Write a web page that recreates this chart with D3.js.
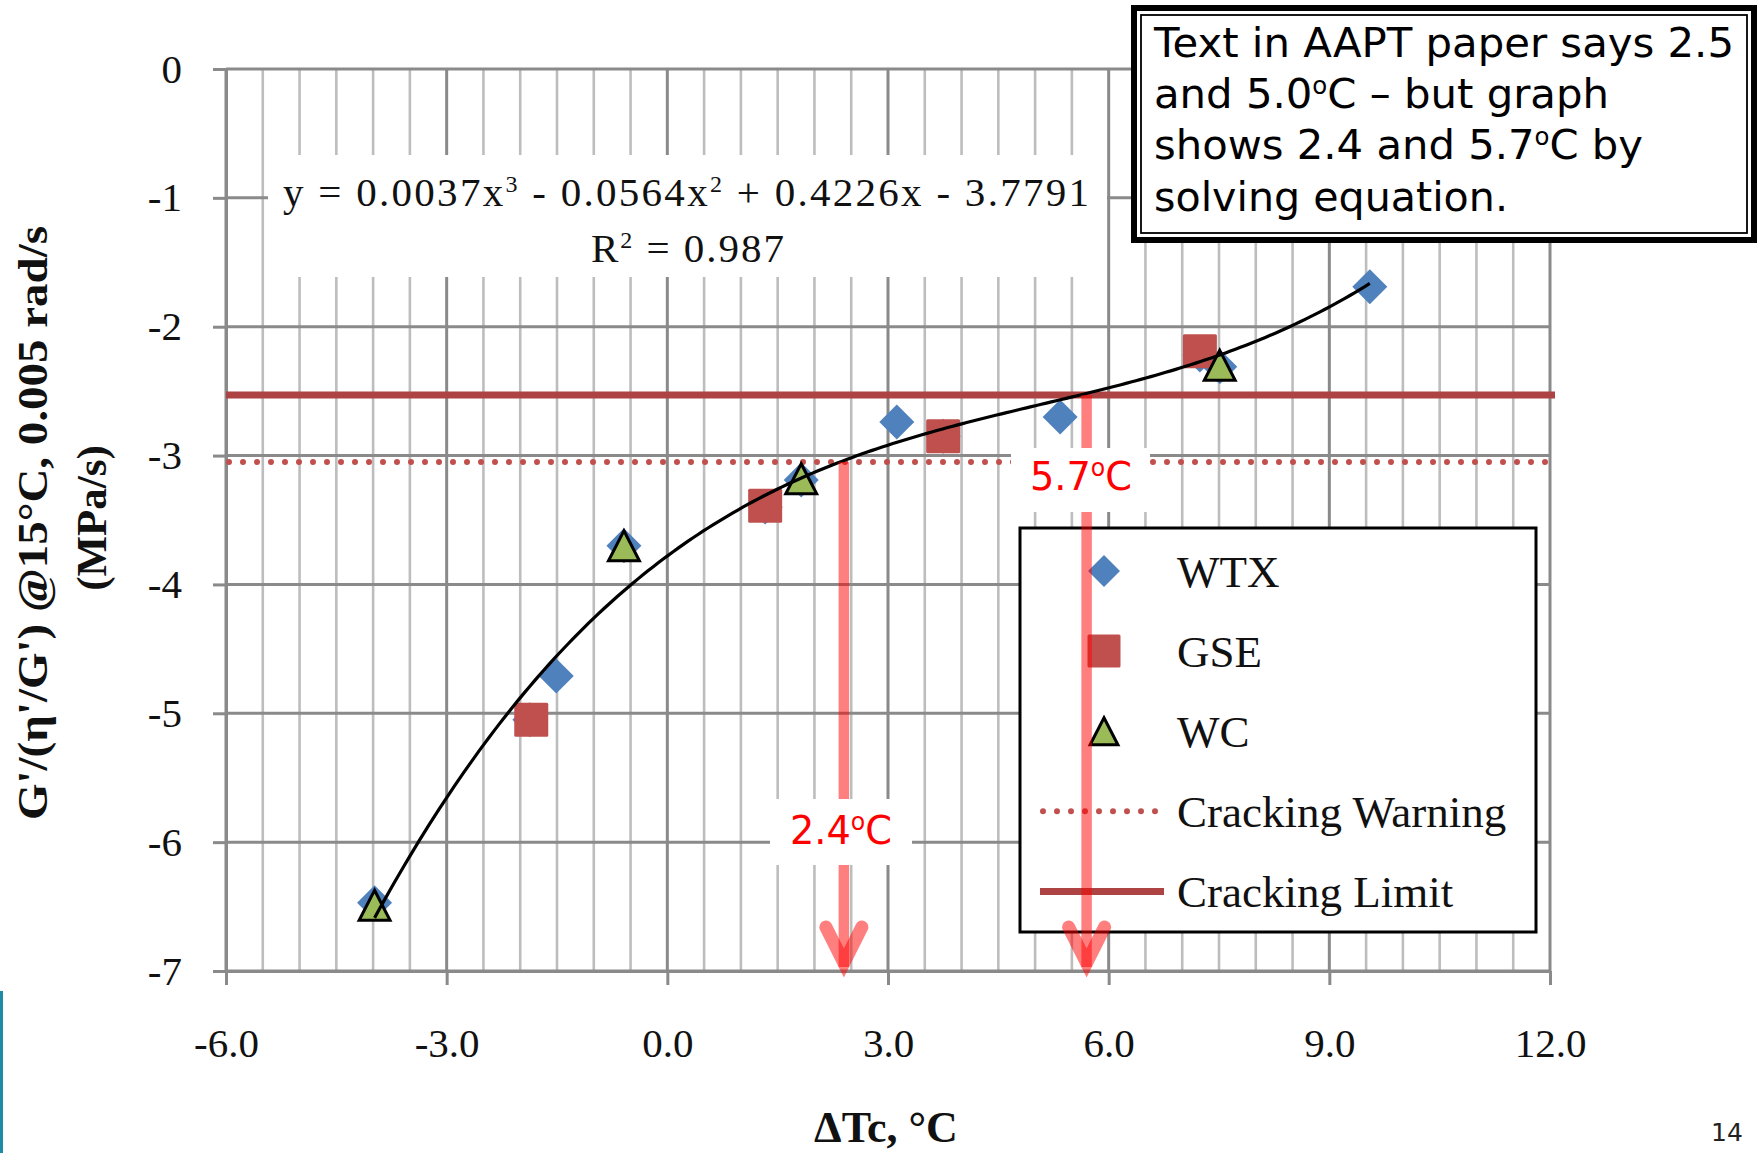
<!DOCTYPE html>
<html>
<head>
<meta charset="utf-8">
<script src="https://cdn.jsdelivr.net/npm/d3@7"></script>
<style>
  html, body { margin: 0; padding: 0; background: #fff; }
  svg { display: block; }
</style>
</head>
<body>
<svg id="chart" width="1760" height="1153"></svg>
<script>
// ---- data ----
const xTicks = [-6, -3, 0, 3, 6, 9, 12];
const yTicks = [0, -1, -2, -3, -4, -5, -6, -7];

// WTX (diamonds)
const wtxX = [-3.98, -1.87, -1.51, -0.59, 1.33, 1.82, 3.12, 3.75, 5.34, 7.24, 7.51, 9.55];
const wtxY = [-6.47, -5.05, -4.71, -3.70, -3.40, -3.19, -2.74, -2.85, -2.70, -2.22, -2.31, -1.69];
// GSE (squares)
const gseX = [-1.85, 1.33, 3.75, 7.24];
const gseY = [-5.05, -3.39, -2.85, -2.19];
// WC (triangles)
const wcX = [-3.98, -0.59, 1.82, 7.51];
const wcY = [-6.49, -3.70, -3.18, -2.30];

// cubic trendline coefficients: a3, a2, a1, a0
const fitCoef = [0.0037, -0.0564, 0.4226, -3.7791];
const fitR2 = "0.987";

// horizontal criteria
const warningLevel = -3.05;
const limitLevel = -2.53;

// temperatures where the trendline meets each criterion
const crossX = [2.4, 5.7];
const crossLevel = [warningLevel, limitLevel];

const legendLabels = ["WTX", "GSE", "WC", "Cracking Warning", "Cracking Limit"];

const noteLines = [
  ["Text in AAPT paper says 2.5"],
  ["and 5.0", "o", "C \u2013 but graph"],
  ["shows 2.4 and 5.7", "o", "C by"],
  ["solving equation."]
];

// ---- layout ----
const svg = d3.select("#chart");
const L = 226, R = 1550, T = 69, B = 971;
const x = d3.scaleLinear().domain([-6, 12]).range([L, R]);
const y = d3.scaleLinear().domain([-7, 0]).range([B, T]);

const serif = "'Liberation Serif', 'Times New Roman', serif";
const sans = "'DejaVu Sans', 'Open Sans', sans-serif";

const gMajor = "#8a8a8a", gMinor = "#bdbdbd";
const cBlue = "#4f81bd", cRed = "#c0504d", cGreen = "#9bbb59", cLimit = "#ad4343";

// ---- gridlines ----
const grid = svg.append("g");
const minorX = d3.range(-6, 12.001, 0.5).filter(v => Math.abs(v % 3) > 1e-6);
grid.selectAll("line.minor").data(minorX).join("line")
  .attr("x1", d => x(d)).attr("x2", d => x(d))
  .attr("y1", T).attr("y2", B)
  .attr("stroke", gMinor).attr("stroke-width", 2.6);
grid.selectAll("line.majx").data(xTicks).join("line")
  .attr("x1", d => x(d)).attr("x2", d => x(d))
  .attr("y1", T).attr("y2", B)
  .attr("stroke", gMajor).attr("stroke-width", 3);
grid.selectAll("line.majy").data(yTicks).join("line")
  .attr("x1", L).attr("x2", R)
  .attr("y1", d => y(d)).attr("y2", d => y(d))
  .attr("stroke", gMajor).attr("stroke-width", 3);

// ---- axes ----
const xAxis = d3.axisBottom(x).tickValues(xTicks).tickSize(14).tickSizeOuter(0)
  .tickPadding(43).tickFormat(d => d.toFixed(1));
const yAxis = d3.axisLeft(y).tickValues(yTicks).tickSize(13).tickSizeOuter(0)
  .tickPadding(31).tickFormat(d => String(d));

const gx = svg.append("g").attr("transform", `translate(0,${B})`).call(xAxis);
const gy = svg.append("g").attr("transform", `translate(${L},0)`).call(yAxis);
[gx, gy].forEach(g => {
  g.select(".domain").attr("stroke", gMajor).attr("stroke-width", 3);
  g.selectAll(".tick line").attr("stroke", gMajor).attr("stroke-width", 3);
  g.selectAll(".tick text").attr("font-family", serif).attr("font-size", 41).attr("fill", "#111");
});

// ---- trendline equation label ----
svg.append("rect").attr("x", 268).attr("y", 155).attr("width", 839).attr("height", 122).attr("fill", "#fff");
const fmt4 = v => Math.abs(v).toFixed(4);
const eq = svg.append("text").attr("x", 283).attr("y", 206)
  .attr("font-family", serif).attr("font-size", 41).attr("fill", "#111")
  .attr("textLength", 806).attr("lengthAdjust", "spacing");
eq.append("tspan").text(`y = ${fmt4(fitCoef[0])}x`);
eq.append("tspan").attr("font-size", 24).attr("dy", -14).text("3");
eq.append("tspan").attr("dy", 14).text(` ${fitCoef[1] < 0 ? "-" : "+"} ${fmt4(fitCoef[1])}x`);
eq.append("tspan").attr("font-size", 24).attr("dy", -14).text("2");
eq.append("tspan").attr("dy", 14).text(` ${fitCoef[2] < 0 ? "-" : "+"} ${fmt4(fitCoef[2])}x ${fitCoef[3] < 0 ? "-" : "+"} ${fmt4(fitCoef[3])}`);

const r2 = svg.append("text").attr("x", 591).attr("y", 262)
  .attr("font-family", serif).attr("font-size", 41).attr("fill", "#111")
  .attr("textLength", 193).attr("lengthAdjust", "spacing");
r2.append("tspan").text("R");
r2.append("tspan").attr("font-size", 24).attr("dy", -14).text("2");
r2.append("tspan").attr("dy", 14).text(` = ${fitR2}`);

// ---- criteria lines ----
svg.append("line")
  .attr("x1", x(-6)).attr("x2", x(12) + 5)
  .attr("y1", y(limitLevel)).attr("y2", y(limitLevel))
  .attr("stroke", cLimit).attr("stroke-width", 7);
svg.append("line")
  .attr("x1", x(-6) + 3).attr("x2", x(12) + 4)
  .attr("y1", y(warningLevel)).attr("y2", y(warningLevel))
  .attr("stroke", cRed).attr("stroke-width", 6)
  .attr("stroke-linecap", "round").attr("stroke-dasharray", "0 14");

// ---- markers ----
const diamondPath = r => `M0,${-r}L${r},0L0,${r}L${-r},0Z`;
const trianglePath = s => `M0,${-s}L${s * 1.03},${s}L${-s * 1.03},${s}Z`;

const marks = svg.append("g");
marks.selectAll("path.wtx").data(d3.zip(wtxX, wtxY)).join("path")
  .attr("transform", d => `translate(${x(d[0])},${y(d[1])})`)
  .attr("d", diamondPath(17.5)).attr("fill", cBlue);
marks.selectAll("rect.gse").data(d3.zip(gseX, gseY)).join("rect")
  .attr("x", d => x(d[0]) - 17).attr("y", d => y(d[1]) - 17)
  .attr("width", 34).attr("height", 34).attr("rx", 1.5)
  .attr("fill", cRed);
marks.selectAll("path.wc").data(d3.zip(wcX, wcY)).join("path")
  .attr("transform", d => `translate(${x(d[0])},${y(d[1])})`)
  .attr("d", trianglePath(15)).attr("fill", cGreen)
  .attr("stroke", "#000").attr("stroke-width", 3).attr("stroke-linejoin", "miter");

// ---- trendline ----
const allX = wtxX.concat(gseX, wcX);
const [x0, x1] = d3.extent(allX);
const poly = v => ((fitCoef[0] * v + fitCoef[1]) * v + fitCoef[2]) * v + fitCoef[3];
const curvePts = d3.range(0, 201).map(i => {
  const v = x0 + (x1 - x0) * i / 200;
  return [v, poly(v)];
});
svg.append("path")
  .attr("d", d3.line().x(d => x(d[0])).y(d => y(d[1]))(curvePts))
  .attr("fill", "none").attr("stroke", "#000").attr("stroke-width", 3.2);

// ---- legend ----
const lg = svg.append("g");
lg.append("rect").attr("x", 1020).attr("y", 528).attr("width", 516).attr("height", 404)
  .attr("fill", "#fff").attr("stroke", "#000").attr("stroke-width", 3);
const legY = i => 571 + i * 80.1;
const legMx = 1104;
lg.append("path").attr("transform", `translate(${legMx},${legY(0)})`).attr("d", diamondPath(16)).attr("fill", cBlue);
lg.append("rect").attr("x", legMx - 16.5).attr("y", legY(1) - 16.5).attr("width", 33).attr("height", 33).attr("rx", 1.5).attr("fill", cRed);
lg.append("path").attr("transform", `translate(${legMx},${legY(2)})`).attr("d", trianglePath(13.5))
  .attr("fill", cGreen).attr("stroke", "#000").attr("stroke-width", 3);
lg.append("line").attr("x1", 1043).attr("x2", 1157).attr("y1", legY(3)).attr("y2", legY(3))
  .attr("stroke", cRed).attr("stroke-width", 6).attr("stroke-linecap", "round").attr("stroke-dasharray", "0 14");
lg.append("line").attr("x1", 1040).attr("x2", 1164).attr("y1", legY(4)).attr("y2", legY(4))
  .attr("stroke", cLimit).attr("stroke-width", 7);
lg.selectAll("text").data(legendLabels).join("text")
  .attr("x", 1177).attr("y", (d, i) => legY(i) + 16)
  .attr("font-family", serif).attr("font-size", 45).attr("fill", "#111")
  .text(d => d);

// ---- arrows from the crossing points down to the axis ----
const arrows = svg.append("g");
crossX.forEach((cx, i) => {
  const px = x(cx);
  arrows.append("line")
    .attr("x1", px).attr("x2", px)
    .attr("y1", y(crossLevel[i])).attr("y2", B - 4)
    .attr("stroke", "#ff0000").attr("stroke-opacity", 0.5).attr("stroke-width", 10.5);
  arrows.append("path")
    .attr("d", `M${px - 18},${B - 44}L${px},${B - 8}L${px + 18},${B - 44}`)
    .attr("fill", "none").attr("stroke", "#ff0000").attr("stroke-opacity", 0.5)
    .attr("stroke-width", 13).attr("stroke-linecap", "round").attr("stroke-linejoin", "miter");
});

// value labels on the arrows
const labelBoxes = [
  { x: 770, y: 799, w: 142, h: 66, tx: 841, ty: 844 },
  { x: 1011, y: 448, w: 139, h: 64, tx: 1081, ty: 490 }
];
crossX.forEach((cx, i) => {
  const b = labelBoxes[i];
  svg.append("rect").attr("x", b.x).attr("y", b.y).attr("width", b.w).attr("height", b.h).attr("fill", "#fff");
  const t = svg.append("text").attr("x", b.tx).attr("y", b.ty)
    .attr("text-anchor", "middle").attr("font-family", sans).attr("font-size", 39)
    .attr("fill", "#ff0000").attr("textLength", 102).attr("lengthAdjust", "spacingAndGlyphs");
  t.append("tspan").text(cx.toFixed(1));
  t.append("tspan").attr("font-size", 24).attr("dy", -14).text("o");
  t.append("tspan").attr("dy", 14).text("C");
});

// ---- note box ----
const nb = svg.append("g");
nb.append("rect").attr("x", 1134).attr("y", 8).attr("width", 620).attr("height", 232)
  .attr("fill", "#fff").attr("stroke", "#000").attr("stroke-width", 6);
nb.append("rect").attr("x", 1141).attr("y", 15).attr("width", 606).attr("height", 218)
  .attr("fill", "none").attr("stroke", "#000").attr("stroke-width", 1.8);
const noteWidths = [580, 455, 489, 354];
noteLines.forEach((parts, i) => {
  const t = nb.append("text").attr("x", 1154).attr("y", 57 + i * 51.2)
    .attr("font-family", sans).attr("font-size", 41).attr("fill", "#000")
    .attr("textLength", noteWidths[i]).attr("lengthAdjust", "spacingAndGlyphs");
  if (parts.length === 1) {
    t.text(parts[0]);
  } else {
    t.append("tspan").text(parts[0]);
    t.append("tspan").attr("font-size", 24).attr("dy", -14).text(parts[1]);
    t.append("tspan").attr("dy", 14).text(parts[2]);
  }
});

// ---- axis titles ----
svg.append("text")
  .attr("transform", "translate(47,523) rotate(-90)")
  .attr("text-anchor", "middle").attr("font-family", serif).attr("font-weight", "bold")
  .attr("font-size", 43).attr("fill", "#111")
  .attr("textLength", 594).attr("lengthAdjust", "spacingAndGlyphs")
  .text("G'/(\u03b7'/G') @15\u00b0C, 0.005 rad/s");
svg.append("text")
  .attr("transform", "translate(106,518) rotate(-90)")
  .attr("text-anchor", "middle").attr("font-family", serif).attr("font-weight", "bold")
  .attr("font-size", 43).attr("fill", "#111")
  .text("(MPa/s)");
svg.append("text")
  .attr("x", 886).attr("y", 1142)
  .attr("text-anchor", "middle").attr("font-family", serif).attr("font-weight", "bold")
  .attr("font-size", 44).attr("fill", "#111")
  .text("\u0394Tc, \u00b0C");

// ---- slide furniture ----
svg.append("rect").attr("x", 0).attr("y", 991).attr("width", 3).attr("height", 162).attr("fill", "#1f8aa6");
svg.append("text").attr("x", 1727).attr("y", 1141).attr("text-anchor", "middle")
  .attr("font-family", sans).attr("font-size", 25).attr("fill", "#222").text("14");
</script>
</body>
</html>
